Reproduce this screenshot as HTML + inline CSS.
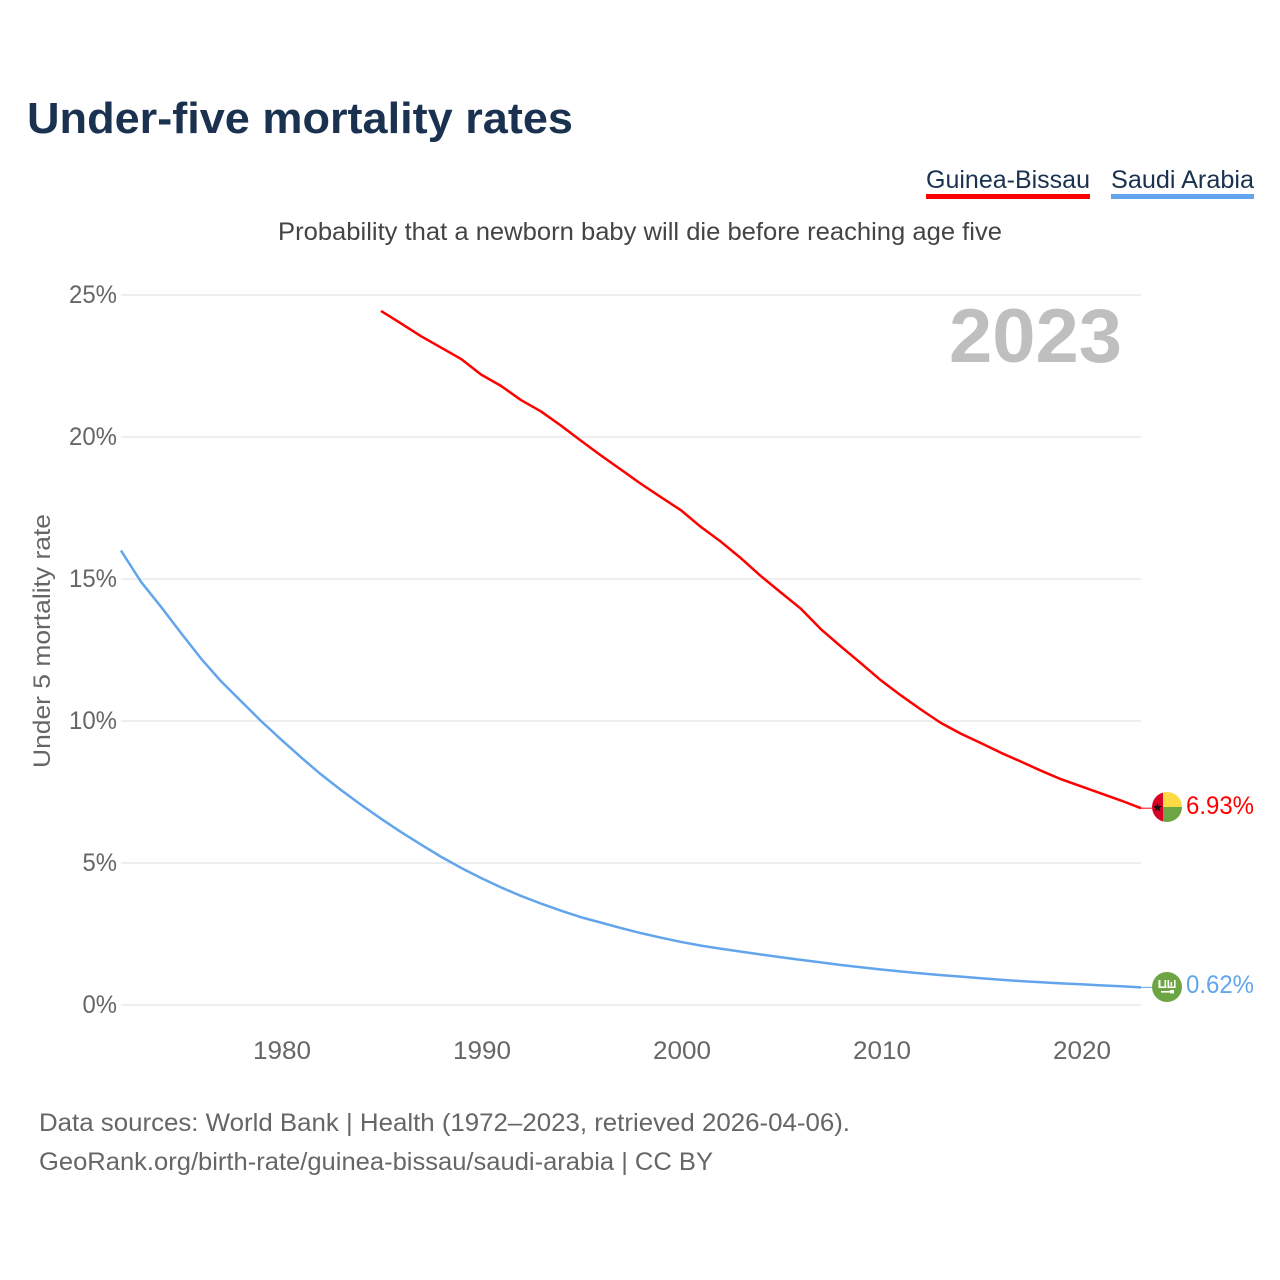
<!DOCTYPE html>
<html lang="en">
<head>
<meta charset="utf-8">
<title>Under-five mortality rates</title>
<style>
html,body{margin:0;padding:0;background:#fff;}
svg{display:block;font-family:"Liberation Sans",sans-serif;}
</style>
</head>
<body>
<svg id="chart" xmlns="http://www.w3.org/2000/svg" width="1280" height="1280" viewBox="0 0 1280 1280">
  <rect width="1280" height="1280" fill="#fff"/>
  <text x="27" y="133" font-size="44" font-weight="700" fill="#1a3150" textLength="546" lengthAdjust="spacingAndGlyphs">Under-five mortality rates</text>

  <g>
    <text x="926" y="188" font-size="25" fill="#1a3150" textLength="164" lengthAdjust="spacingAndGlyphs">Guinea-Bissau</text>
    <rect x="926" y="194" width="164" height="5" fill="#ff0000"/>
  </g>
  <g>
    <text x="1111" y="188" font-size="25" fill="#1a3150" textLength="143" lengthAdjust="spacingAndGlyphs">Saudi Arabia</text>
    <rect x="1111" y="194" width="143" height="5" fill="#62a5ec"/>
  </g>

  <text x="278" y="240" font-size="25" fill="#444" textLength="724" lengthAdjust="spacingAndGlyphs">Probability that a newborn baby will die before reaching age five</text>

  <g id="grid"></g>
  <g id="yticks"></g>
  <g id="xticks"></g>

  <text transform="translate(50,768) rotate(-90)" font-size="24" fill="#666" textLength="254" lengthAdjust="spacingAndGlyphs">Under 5 mortality rate</text>
  <text x="949" y="362" font-size="76" font-weight="700" fill="#bfbfbf" textLength="173" lengthAdjust="spacingAndGlyphs">2023</text>

  <g id="series"></g>

  <defs>
    <clipPath id="flagClipGw"><circle cx="1167" cy="807" r="15"/></clipPath>
  </defs>
  <g id="flagGw">
    <g clip-path="url(#flagClipGw)">
      <rect x="1152" y="792" width="11" height="30" fill="#d80027"/>
      <rect x="1163" y="792" width="19" height="15" fill="#ffda44"/>
      <rect x="1163" y="807" width="19" height="15" fill="#6da544"/>
    </g>
    <polygon points="1157.5,802.5 1158.7,806 1162,806 1159.4,808.2 1160.4,811.5 1157.5,809.5 1154.6,811.5 1155.6,808.2 1153,806 1156.3,806" fill="#111"/>
  </g>
  <g id="flagSa">
    <circle cx="1167" cy="987" r="15" fill="#6da544"/>
    <g fill="#fff">
      <rect x="1158.5" y="980" width="2" height="8"/>
      <rect x="1158.5" y="986.4" width="8" height="1.6"/>
      <rect x="1164.5" y="980" width="1.6" height="8"/>
      <rect x="1167.5" y="980" width="1.6" height="8"/>
      <rect x="1167.5" y="986.4" width="8" height="1.6"/>
      <rect x="1170.5" y="982" width="1.6" height="4"/>
      <rect x="1174" y="980" width="1.6" height="8"/>
      <rect x="1161" y="991" width="10" height="1.6"/>
      <rect x="1170" y="990" width="4" height="3.4"/>
    </g>
  </g>

  <text x="1186" y="814" font-size="25" fill="#ff0000" textLength="68" lengthAdjust="spacingAndGlyphs">6.93%</text>
  <text x="1186" y="993" font-size="25" fill="#62a5ec" textLength="68" lengthAdjust="spacingAndGlyphs">0.62%</text>

  <text x="39" y="1131" font-size="25" fill="#666" textLength="811" lengthAdjust="spacingAndGlyphs">Data sources: World Bank | Health (1972–2023, retrieved 2026-04-06).</text>
  <text x="39" y="1170" font-size="25" fill="#666" textLength="674" lengthAdjust="spacingAndGlyphs">GeoRank.org/birth-rate/guinea-bissau/saudi-arabia | CC BY</text>
</svg>
<script>
var yTickValues = [0, 5, 10, 15, 20, 25];
var xTickYears = [1980, 1990, 2000, 2010, 2020];
var saudiStartYear = 1972;
var saudiValues = [16.0, 14.9, 14.02, 13.1, 12.2, 11.4, 10.7, 10.0, 9.35, 8.72, 8.12, 7.57, 7.05, 6.56, 6.09, 5.65, 5.22, 4.83, 4.47, 4.14, 3.84, 3.57, 3.32, 3.09, 2.9, 2.71, 2.53, 2.37, 2.22, 2.09, 1.98, 1.88, 1.78, 1.68, 1.59, 1.5, 1.41, 1.33, 1.25, 1.18, 1.115, 1.05, 1.0, 0.94, 0.89, 0.84, 0.8, 0.76, 0.73, 0.69, 0.66, 0.62];
var guineaStartYear = 1985;
var guineaValues = [24.44, 24.0, 23.55, 23.15, 22.75, 22.2, 21.8, 21.3, 20.9, 20.4, 19.87, 19.35, 18.85, 18.35, 17.88, 17.42, 16.83, 16.31, 15.73, 15.1, 14.52, 13.95, 13.23, 12.62, 12.03, 11.43, 10.9, 10.4, 9.93, 9.55, 9.22, 8.88, 8.57, 8.25, 7.95, 7.7, 7.45, 7.2, 6.93];

var NS = 'http://www.w3.org/2000/svg';
function xScale(year) { return 121 + (year - 1972) * 20; }
function yScale(value) { return 1005 - value * 28.4; }

var grid = document.getElementById('grid');
var yticks = document.getElementById('yticks');
var xticks = document.getElementById('xticks');
var seriesGroup = document.getElementById('series');

yTickValues.forEach(function (v) {
  var line = document.createElementNS(NS, 'line');
  
  
  line.setAttribute('x1', xScale(1972));
  line.setAttribute('x2', xScale(2023));
  line.setAttribute('y1', yScale(v));
  line.setAttribute('y2', yScale(v));
  line.setAttribute('stroke', '#eeeeee');
  line.setAttribute('stroke-width', 2);
  grid.appendChild(line);

  var label = document.createElementNS(NS, 'text');
  
  
  label.setAttribute('x', 117);
  label.setAttribute('y', yScale(v) + 8);
  label.setAttribute('text-anchor', 'end');
  label.setAttribute('font-size', 25);
  label.setAttribute('fill', '#666');
  label.setAttribute('textLength', v < 10 ? 34.5 : 48);
  label.setAttribute('lengthAdjust', 'spacingAndGlyphs');
  label.textContent = v + '%';
  yticks.appendChild(label);
});

xTickYears.forEach(function (year) {
  var label = document.createElementNS(NS, 'text');
  
  
  label.setAttribute('x', xScale(year) + 1);
  label.setAttribute('y', 1059);
  label.setAttribute('text-anchor', 'middle');
  label.setAttribute('font-size', 25);
  label.setAttribute('fill', '#666');
  label.setAttribute('textLength', 58);
  label.setAttribute('lengthAdjust', 'spacingAndGlyphs');
  label.textContent = year;
  xticks.appendChild(label);
});

function linePoints(startYear, values) {
  return values.map(function (v, i) {
    return xScale(startYear + i).toFixed(1) + ',' + yScale(v).toFixed(2);
  }).join(' ');
}

var saudiLine = document.createElementNS(NS, 'polyline');


saudiLine.setAttribute('points', linePoints(saudiStartYear, saudiValues));
saudiLine.setAttribute('fill', 'none');
saudiLine.setAttribute('stroke', '#62a5ec');
saudiLine.setAttribute('stroke-width', 2.5);
saudiLine.setAttribute('stroke-linejoin', 'round');
seriesGroup.appendChild(saudiLine);

var guineaLine = document.createElementNS(NS, 'polyline');


guineaLine.setAttribute('points', linePoints(guineaStartYear, guineaValues));
guineaLine.setAttribute('fill', 'none');
guineaLine.setAttribute('stroke', '#ff0000');
guineaLine.setAttribute('stroke-width', 2.5);
guineaLine.setAttribute('stroke-linejoin', 'round');
seriesGroup.appendChild(guineaLine);

var saudiLeader = document.createElementNS(NS, 'line');


saudiLeader.setAttribute('x1', xScale(2023));
saudiLeader.setAttribute('x2', 1152);
saudiLeader.setAttribute('y1', yScale(saudiValues[saudiValues.length - 1]));
saudiLeader.setAttribute('y2', yScale(saudiValues[saudiValues.length - 1]));
saudiLeader.setAttribute('stroke', '#62a5ec');
saudiLeader.setAttribute('stroke-width', 1);
seriesGroup.appendChild(saudiLeader);

var guineaLeader = document.createElementNS(NS, 'line');


guineaLeader.setAttribute('x1', xScale(2023));
guineaLeader.setAttribute('x2', 1152);
guineaLeader.setAttribute('y1', yScale(guineaValues[guineaValues.length - 1]));
guineaLeader.setAttribute('y2', yScale(guineaValues[guineaValues.length - 1]));
guineaLeader.setAttribute('stroke', '#ff0000');
guineaLeader.setAttribute('stroke-width', 1);
seriesGroup.appendChild(guineaLeader);
</script>
</body>
</html>
